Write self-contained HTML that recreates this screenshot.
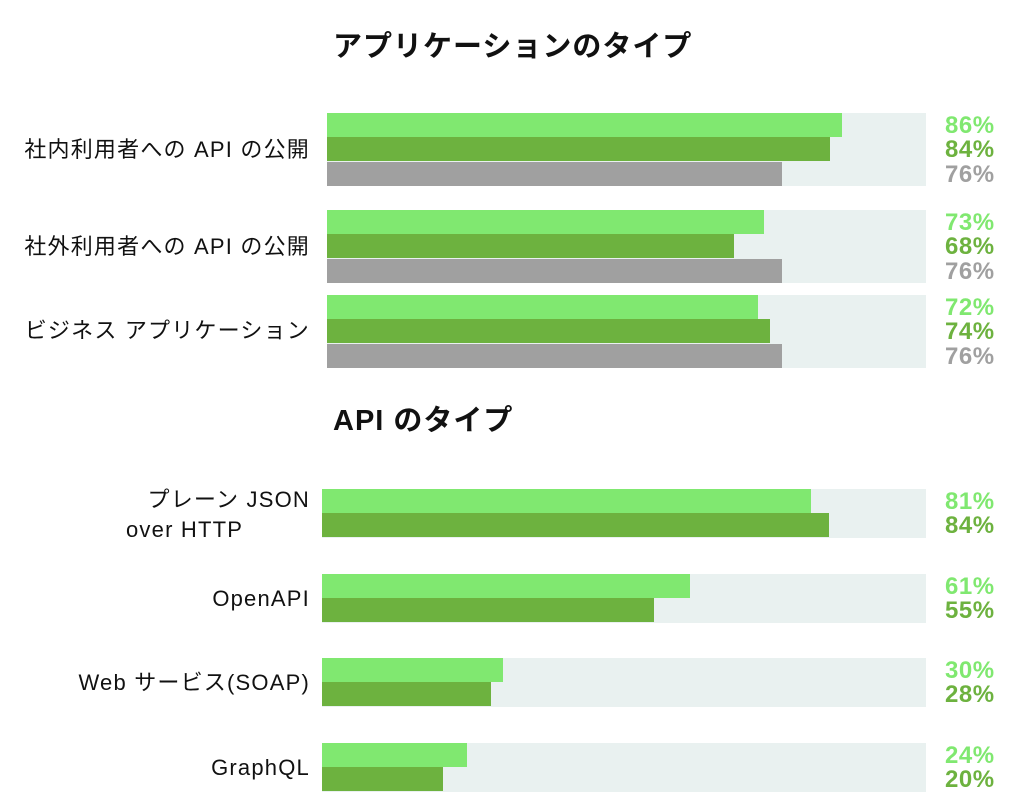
<!DOCTYPE html>
<html><head><meta charset="utf-8"><style>
body{margin:0;width:1024px;height:812px;background:#fff;position:relative;overflow:hidden;font-family:"Liberation Sans","Noto Sans CJK JP",sans-serif;color:#111}
.t{position:absolute;font-weight:bold;font-size:29px;letter-spacing:1px;white-space:nowrap}
.bg{position:absolute;background:#e9f1f0}
.b{position:absolute}
.l1{background:#80e870}.l2{background:#6db23f}.l3{background:#a0a0a0}
.v{position:absolute;font-weight:bold;font-size:24px;left:945px;line-height:24px;letter-spacing:0.5px}
.c1{color:#80e870}.c2{color:#6db23f}.c3{color:#a0a0a0}
.lab{position:absolute;right:714px;font-size:22px;letter-spacing:1.2px;text-align:right;white-space:nowrap;line-height:30px}
</style></head><body>
<div class="t" style="left:333px;top:23px">アプリケーションのタイプ</div>
<div class="t" style="left:333px;top:397px">API のタイプ</div>

<div class="lab" style="top:135px">社内利用者への API の公開</div>
<div class="lab" style="top:232px">社外利用者への API の公開</div>
<div class="lab" style="top:316px">ビジネス アプリケーション</div>
<div class="lab" style="top:485px">プレーン JSON<br><span style="display:inline-block;width:184px;text-align:left">over HTTP</span></div>
<div class="lab" style="top:584px">OpenAPI</div>
<div class="lab" style="top:668px">Web サービス(SOAP)</div>
<div class="lab" style="top:753px">GraphQL</div>

<div id="g"></div>
<script>
var h='';
function grp(y,x,vals){
  var w=926-x;
  h+='<div class="bg" style="left:'+x+'px;top:'+y+'px;width:'+w+'px;height:'+(vals.length*24.3)+'px"></div>';
  vals.forEach(function(v,i){
    var yy=y+i*24.3;
    h+='<div class="b l'+(i+1)+'" style="left:'+x+'px;top:'+yy+'px;width:'+(w*v/100)+'px;height:24px"></div>';
    h+='<div class="v c'+(i+1)+'" style="top:'+(yy+1)+'px">'+v+'%</div>';
  });
}
grp(113,327,[86,84,76]);grp(210,327,[73,68,76]);grp(295,327,[72,74,76]);
grp(489,322,[81,84]);grp(574,322,[61,55]);grp(658,322,[30,28]);grp(743,322,[24,20]);
document.getElementById('g').innerHTML=h;
</script>
</body></html>
